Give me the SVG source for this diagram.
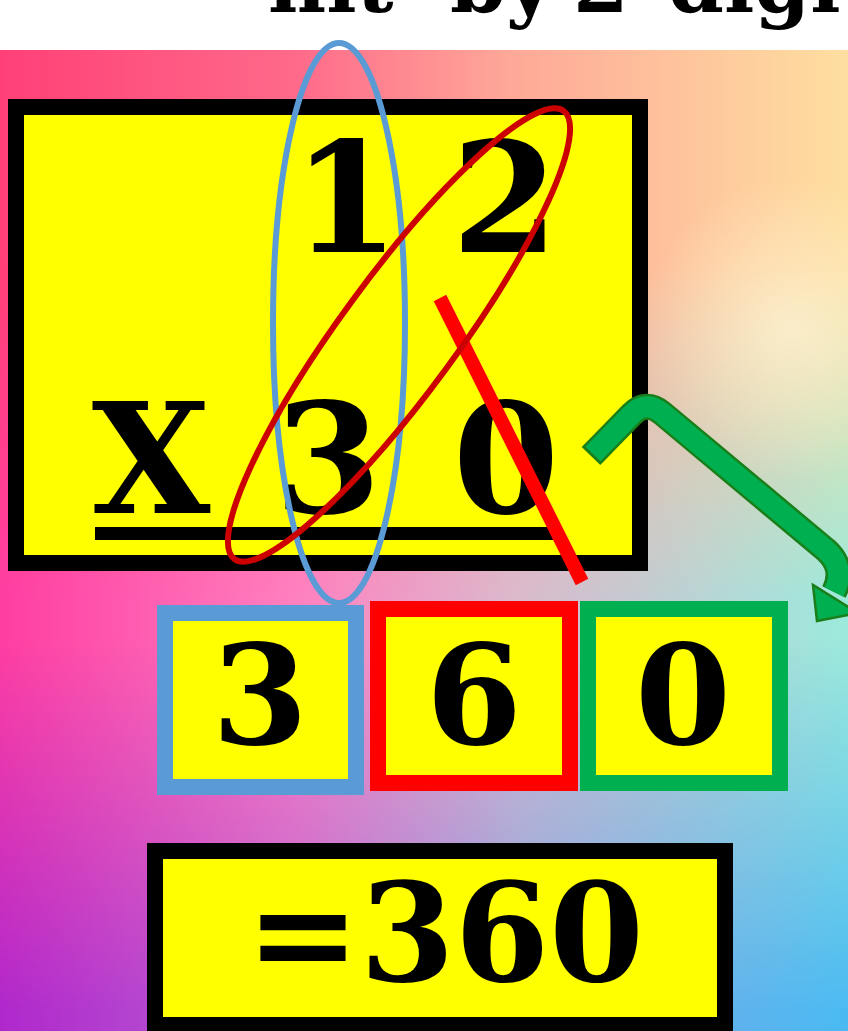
<svg xmlns="http://www.w3.org/2000/svg" width="848" height="1031" viewBox="0 0 848 1031">
<defs>
<style>
.num{font-family:"DejaVu Serif","Liberation Serif",serif;font-weight:bold;fill:#000;text-anchor:middle}
.box{fill:#ffff00;stroke-width:16}
</style>
<linearGradient id="gTop" x1="0" y1="0" x2="1" y2="0">
<stop offset="0" stop-color="#ff4077"/><stop offset="0.35" stop-color="#ff6a8a"/><stop offset="0.6" stop-color="#fea898"/><stop offset="1" stop-color="#fedfa0"/>
</linearGradient>
<linearGradient id="gMid" x1="0" y1="0" x2="1" y2="0">
<stop offset="0" stop-color="#ff3ea2"/><stop offset="0.35" stop-color="#ff80c0"/><stop offset="0.6" stop-color="#dcb8cc"/><stop offset="1" stop-color="#9ceadc"/>
</linearGradient>
<linearGradient id="gBot" x1="0" y1="0" x2="1" y2="0">
<stop offset="0" stop-color="#b028cc"/><stop offset="0.35" stop-color="#b864d4"/><stop offset="0.62" stop-color="#84a4e2"/><stop offset="1" stop-color="#4abaf2"/>
</linearGradient>
<linearGradient id="vMid" x1="0" y1="0" x2="0" y2="1">
<stop offset="0.22" stop-color="#000"/><stop offset="0.56" stop-color="#fff"/>
</linearGradient>
<linearGradient id="vBot" x1="0" y1="0" x2="0" y2="1">
<stop offset="0.6" stop-color="#000"/><stop offset="0.98" stop-color="#fff"/>
</linearGradient>
<radialGradient id="glow" cx="790" cy="330" r="150" gradientUnits="userSpaceOnUse">
<stop offset="0" stop-color="#fff4d4" stop-opacity="0.75"/><stop offset="1" stop-color="#fff4d4" stop-opacity="0"/>
</radialGradient>
<mask id="mMid" maskUnits="userSpaceOnUse" x="0" y="50" width="848" height="981"><rect x="0" y="50" width="848" height="981" fill="url(#vMid)"/></mask>
<mask id="mBot" maskUnits="userSpaceOnUse" x="0" y="50" width="848" height="981"><rect x="0" y="50" width="848" height="981" fill="url(#vBot)"/></mask>
</defs>

<g id="background">
<rect x="0" y="0" width="848" height="50" fill="#ffffff"/>
<rect x="0" y="50" width="848" height="981" fill="url(#gTop)"/>
<rect x="0" y="50" width="848" height="981" fill="url(#gMid)" mask="url(#mMid)"/>
<rect x="0" y="50" width="848" height="981" fill="url(#gBot)" mask="url(#mBot)"/>
<rect x="600" y="170" width="248" height="330" fill="url(#glow)"/>
</g>

<g id="title">
<text y="12" font-family="DejaVu Serif, Liberation Serif, serif" font-weight="bold" font-size="80" fill="#000"><tspan x="268">nit</tspan><tspan x="450">by</tspan><tspan x="573">2</tspan><tspan x="668">digit</tspan></text>
</g>

<g id="problem">
<rect class="box" x="16" y="107" width="624" height="456" stroke="#000"/>
<text class="num" x="346" y="252" font-size="153">1</text>
<text class="num" x="505" y="252" font-size="153">2</text>
<text class="num" x="151" y="513" font-size="153">X</text>
<text class="num" x="328" y="513" font-size="153">3</text>
<text class="num" x="506" y="513" font-size="153">0</text>
<rect x="95" y="527" width="460" height="13" fill="#000"/>
</g>

<g id="digit-3">
<rect class="box" x="165" y="613" width="191" height="174" stroke="#5b9bd5"/>
<text class="num" x="260" y="744" font-size="138">3</text>
</g>
<g id="digit-6">
<rect class="box" x="378" y="609" width="192" height="174" stroke="#ff0000"/>
<text class="num" x="474" y="744" font-size="138">6</text>
</g>
<g id="digit-0">
<rect class="box" x="588" y="609" width="192" height="174" stroke="#00b050"/>
<text class="num" x="683" y="744" font-size="138">0</text>
</g>

<g id="answer">
<rect class="box" x="155" y="851" width="570" height="174" stroke="#000"/>
<text class="num" x="445" y="981" font-size="136">=360</text>
</g>

<g id="connectors">
<line x1="440" y1="298" x2="582" y2="582" stroke="#ff0000" stroke-width="14"/>
<ellipse cx="339" cy="323" rx="66" ry="280" fill="none" stroke="#5b9bd5" stroke-width="6"/>
<ellipse cx="0" cy="0" rx="278" ry="58" fill="none" stroke="#cc0000" stroke-width="6" transform="translate(399 335) rotate(-53.7)"/>
<path d="M 591,456 L 632,414 Q 646,400 662,413 L 826,550 Q 846,568 834,592" fill="none" stroke="#1a7f1a" stroke-width="26"/>
<path d="M 593,454 L 632,414 Q 646,400 662,413 L 826,550 Q 846,568 834,592" fill="none" stroke="#00b050" stroke-width="21"/>
<polygon points="813,585 817,621 858,613" fill="#00b050" stroke="#1a7f1a" stroke-width="2.5"/>
</g>
</svg>
